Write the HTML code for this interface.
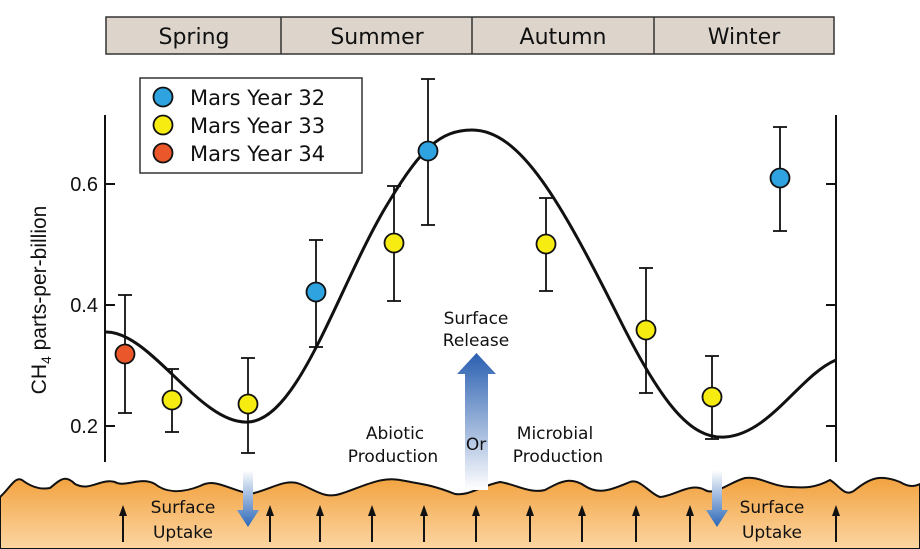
<!DOCTYPE html>
<html><head><meta charset="utf-8"><style>
html,body{margin:0;padding:0;background:#fff;}
svg{display:block;}
text{font-family:"DejaVu Sans","Liberation Sans",sans-serif;fill:#111;}
</style></head><body>
<svg width="920" height="549" viewBox="0 0 920 549" xmlns="http://www.w3.org/2000/svg">
<defs>
<linearGradient id="gr" x1="0" y1="0" x2="0" y2="1">
<stop offset="0" stop-color="#f2a23f"/><stop offset="1" stop-color="#fcd6a3"/>
</linearGradient>
<linearGradient id="bu" x1="0" y1="1" x2="0" y2="0">
<stop offset="0" stop-color="#ffffff"/><stop offset="1" stop-color="#2a5fb0"/>
</linearGradient>
<linearGradient id="bd" x1="0" y1="0" x2="0" y2="1">
<stop offset="0" stop-color="#ffffff"/><stop offset="1" stop-color="#2a66b8"/>
</linearGradient>
<g id="ua"><line x1="0" y1="542" x2="0" y2="515" stroke="#111" stroke-width="2"/><polygon points="-4,516 4,516 0,505" fill="#111"/></g>
</defs>
<!-- seasons -->
<rect x="106" y="17" width="728" height="37" fill="#ddd5cb" stroke="#333" stroke-width="1.5"/>
<line x1="281" y1="17" x2="281" y2="54" stroke="#333" stroke-width="1.5"/>
<line x1="472" y1="17" x2="472" y2="54" stroke="#333" stroke-width="1.5"/>
<line x1="654" y1="17" x2="654" y2="54" stroke="#333" stroke-width="1.5"/>
<g font-size="22" text-anchor="middle">
<text x="194" y="44">Spring</text><text x="377" y="44">Summer</text>
<text x="563" y="44">Autumn</text><text x="744" y="44">Winter</text>
</g>
<!-- axes -->
<line x1="105" y1="115" x2="105" y2="462" stroke="#111" stroke-width="2"/>
<line x1="836" y1="115" x2="836" y2="462" stroke="#111" stroke-width="2"/>
<g stroke="#111" stroke-width="2">
<line x1="105" y1="184" x2="115" y2="184"/><line x1="105" y1="305" x2="115" y2="305"/><line x1="105" y1="426" x2="115" y2="426"/>
<line x1="826" y1="184" x2="836" y2="184"/><line x1="826" y1="305" x2="836" y2="305"/><line x1="826" y1="426" x2="836" y2="426"/>
</g>
<g font-size="20" text-anchor="end">
<text x="98" y="191" style="font-family:'Liberation Sans'">0.6</text>
<text x="98" y="312" style="font-family:'Liberation Sans'">0.4</text>
<text x="98" y="433" style="font-family:'Liberation Sans'">0.2</text>
</g>
<text transform="translate(46,300) rotate(-90)" font-size="21" text-anchor="middle" style="font-family:'Liberation Sans'">CH<tspan font-size="14" dy="5">4</tspan><tspan dy="-5"> parts-per-billion</tspan></text>
<!-- ground -->
<path d="M0,497 C10,488 15,476 22,480 C30,486 40,490 50,488 C60,480 65,474 75,484 C90,492 100,478 115,482 C125,488 140,476 155,484 C165,492 180,494 200,486 C215,478 225,488 250,494 C270,490 285,478 300,484 C315,490 325,499 340,494 C360,488 380,476 400,480 C420,484 430,484 455,494 C470,496 480,486 500,482 C515,484 530,494 545,490 C560,482 570,476 585,486 C600,496 615,488 630,482 C640,478 650,494 660,497 C675,496 690,482 705,490 C715,496 730,482 745,478 C760,476 770,486 790,487 C805,488 815,488 830,480 C840,486 845,498 855,490 C870,478 880,474 900,482 C910,488 915,486 920,484 L920,549 L0,549 Z" fill="url(#gr)" stroke="#111" stroke-width="2"/>
<use href="#ua" x="123"/><use href="#ua" x="270"/><use href="#ua" x="320"/><use href="#ua" x="372"/>
<use href="#ua" x="424"/><use href="#ua" x="476"/><use href="#ua" x="530"/><use href="#ua" x="582"/>
<use href="#ua" x="636"/><use href="#ua" x="690"/><use href="#ua" x="836"/>
<!-- blue arrows -->
<path d="M465,490 L465,374 L457,374 L476.5,353 L496,374 L488,374 L488,490 Z" fill="url(#bu)"/>
<path d="M243,470 L243,510 L237,510 L248,527 L259,510 L253,510 L253,470 Z" fill="url(#bd)"/>
<path d="M712,470 L712,510 L706,510 L717,527 L728,510 L722,510 L722,470 Z" fill="url(#bd)"/>
<g font-size="17" text-anchor="middle">
<text x="476" y="324">Surface</text><text x="476" y="346">Release</text>
<text x="395" y="439">Abiotic</text><text x="393" y="462">Production</text>
<text x="476" y="450">Or</text>
<text x="555" y="439">Microbial</text><text x="558" y="462">Production</text>
<text x="183" y="513">Surface</text><text x="183" y="538">Uptake</text>
<text x="772" y="513">Surface</text><text x="772" y="538">Uptake</text>
</g>
<!-- curve -->
<path d="M105,332 C150,330 200,425 248,422 C300,420 340,280 390,200 C420,150 440,130 472,130 C520,130 560,200 620,320 C660,400 690,440 725,437 C770,434 800,375 836,360" fill="none" stroke="#111" stroke-width="3"/>
<!-- error bars -->
<g stroke="#111" stroke-width="1.8">
<line x1="125" y1="295" x2="125" y2="413"/><line x1="118" y1="295" x2="132" y2="295"/><line x1="118" y1="413" x2="132" y2="413"/>
<line x1="172" y1="369" x2="172" y2="432"/><line x1="165" y1="369" x2="179" y2="369"/><line x1="165" y1="432" x2="179" y2="432"/>
<line x1="248" y1="358" x2="248" y2="453"/><line x1="241" y1="358" x2="255" y2="358"/><line x1="241" y1="453" x2="255" y2="453"/>
<line x1="316" y1="240" x2="316" y2="347"/><line x1="309" y1="240" x2="323" y2="240"/><line x1="309" y1="347" x2="323" y2="347"/>
<line x1="394" y1="186" x2="394" y2="301"/><line x1="387" y1="186" x2="401" y2="186"/><line x1="387" y1="301" x2="401" y2="301"/>
<line x1="428" y1="79" x2="428" y2="225"/><line x1="421" y1="79" x2="435" y2="79"/><line x1="421" y1="225" x2="435" y2="225"/>
<line x1="546" y1="198" x2="546" y2="291"/><line x1="539" y1="198" x2="553" y2="198"/><line x1="539" y1="291" x2="553" y2="291"/>
<line x1="646" y1="268" x2="646" y2="393"/><line x1="639" y1="268" x2="653" y2="268"/><line x1="639" y1="393" x2="653" y2="393"/>
<line x1="712" y1="356" x2="712" y2="439"/><line x1="705" y1="356" x2="719" y2="356"/><line x1="705" y1="439" x2="719" y2="439"/>
<line x1="780" y1="127" x2="780" y2="231"/><line x1="773" y1="127" x2="787" y2="127"/><line x1="773" y1="231" x2="787" y2="231"/>
</g>
<g stroke="#111" stroke-width="1.8">
<circle cx="125" cy="354" r="9.5" fill="#e9572a"/>
<circle cx="172" cy="400" r="9.5" fill="#f7ec12"/>
<circle cx="248" cy="404" r="9.5" fill="#f7ec12"/>
<circle cx="316" cy="292" r="9.5" fill="#2ea3e0"/>
<circle cx="394" cy="243" r="9.5" fill="#f7ec12"/>
<circle cx="428" cy="151" r="9.5" fill="#2ea3e0"/>
<circle cx="546" cy="244" r="9.5" fill="#f7ec12"/>
<circle cx="646" cy="330" r="9.5" fill="#f7ec12"/>
<circle cx="712" cy="397" r="9.5" fill="#f7ec12"/>
<circle cx="780" cy="178" r="9.5" fill="#2ea3e0"/>
</g>
<!-- legend -->
<rect x="140" y="78" width="222" height="95" fill="#fff" stroke="#333" stroke-width="1.5"/>
<g stroke="#111" stroke-width="1.8">
<circle cx="163" cy="97" r="9.5" fill="#2ea3e0"/>
<circle cx="163" cy="125" r="9.5" fill="#f7ec12"/>
<circle cx="163" cy="153" r="9.5" fill="#e9572a"/>
</g>
<g font-size="21">
<text x="190" y="105">Mars Year 32</text>
<text x="190" y="133">Mars Year 33</text>
<text x="190" y="161">Mars Year 34</text>
</g>
</svg>
</body></html>
